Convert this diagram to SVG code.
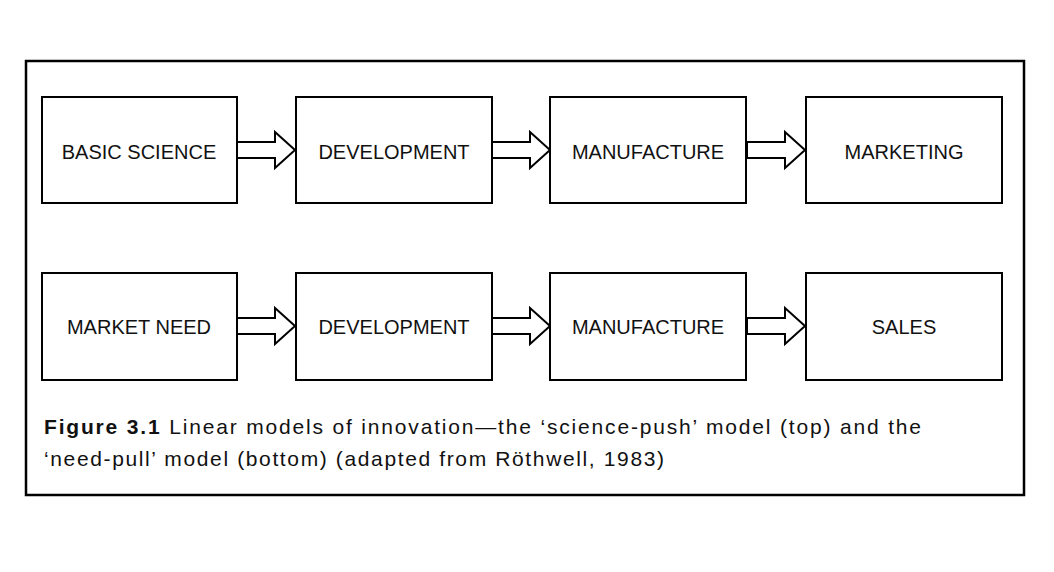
<svg xmlns="http://www.w3.org/2000/svg" width="1054" height="572" viewBox="0 0 1054 572">
<defs>
<style>
.frame{fill:none;stroke:#000;stroke-width:2.5}
.box{fill:#fff;stroke:#000;stroke-width:2}
.lbl{font-family:"Liberation Sans",Arial,sans-serif;font-size:20px;fill:#111;text-anchor:middle;dominant-baseline:central}
.arr{fill:#fff;stroke:#000;stroke-width:2;stroke-linejoin:miter}
.cap{font-family:"Liberation Sans",Arial,sans-serif;font-size:21px;fill:#111}
</style>
<path id="arrow" d="M0,-8 H38 V-18 L58,0 L38,18 V8 H0 Z"/>
</defs>
<rect class="frame" x="26" y="61" width="998" height="434"/>
<g id="connectors">
<use href="#arrow" class="arr" x="237" y="150"/>
<use href="#arrow" class="arr" x="492" y="150"/>
<use href="#arrow" class="arr" x="747" y="150"/>
<use href="#arrow" class="arr" x="237" y="326"/>
<use href="#arrow" class="arr" x="492" y="326"/>
<use href="#arrow" class="arr" x="747" y="326"/>
</g>
<g id="n_basic_science"><rect class="box" x="42" y="97" width="195" height="106"/><text class="lbl" x="139" y="152">BASIC SCIENCE</text></g>
<g id="n_development1"><rect class="box" x="296" y="97" width="196" height="106"/><text class="lbl" x="394" y="152">DEVELOPMENT</text></g>
<g id="n_manufacture1"><rect class="box" x="550" y="97" width="196" height="106"/><text class="lbl" x="648" y="152">MANUFACTURE</text></g>
<g id="n_marketing"><rect class="box" x="806" y="97" width="196" height="106"/><text class="lbl" x="904" y="152">MARKETING</text></g>
<g id="n_market_need"><rect class="box" x="42" y="273" width="195" height="107"/><text class="lbl" x="139" y="327">MARKET NEED</text></g>
<g id="n_development2"><rect class="box" x="296" y="273" width="196" height="107"/><text class="lbl" x="394" y="327">DEVELOPMENT</text></g>
<g id="n_manufacture2"><rect class="box" x="550" y="273" width="196" height="107"/><text class="lbl" x="648" y="327">MANUFACTURE</text></g>
<g id="n_sales"><rect class="box" x="806" y="273" width="196" height="107"/><text class="lbl" x="904" y="327">SALES</text></g>
<g id="caption">
<text class="cap" x="44" y="434" textLength="877" lengthAdjust="spacing"><tspan font-weight="bold">Figure 3.1</tspan> Linear models of innovation—the ‘science-push’ model (top) and the</text>
<text class="cap" x="44" y="466" textLength="620" lengthAdjust="spacing">‘need-pull’ model (bottom) (adapted from Röthwell, 1983)</text>
</g>
</svg>
